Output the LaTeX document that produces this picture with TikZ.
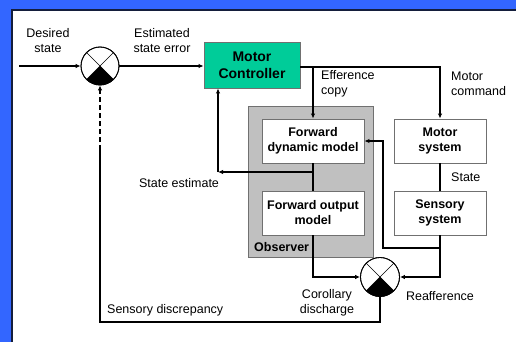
\documentclass[tikz,border=0pt]{standalone}
\usepackage{fontspec}
\setmainfont{Liberation Sans}
\usetikzlibrary{arrows.meta,calc}
\definecolor{bgblue}{RGB}{51,102,255}
\definecolor{ctrlgreen}{RGB}{0,204,153}
\definecolor{obsgray}{RGB}{192,192,192}
\definecolor{edgegray}{RGB}{112,112,112}
\definecolor{paneledge}{RGB}{20,30,60}
\begin{document}
\begin{tikzpicture}[x=1pt,y=1pt,
  every node/.style={font=\fontsize{12.5}{15}\selectfont},
  lbl/.style={inner sep=0pt,align=center},
  lbll/.style={inner sep=0pt,align=left,anchor=west},
  block/.style={draw=edgegray,line width=0.9pt,fill=white,align=center,
    font=\fontsize{12.5}{15}\selectfont\bfseries,inner sep=0pt},
  wire/.style={line width=1.5pt,line join=miter},
  thinwire/.style={line width=1.2pt},
  arr/.style={-{Latex[length=5pt,width=4.5pt]}},
  summer/.style={circle,draw=black,line width=0.8pt,fill=white,minimum size=38pt,inner sep=0pt}
]
\useasboundingbox (0,0) rectangle (516,-342);
\clip (0,0) rectangle (516,-342);
% background and white panel
\fill[bgblue] (0,0) rectangle (516,-342);
\filldraw[fill=white,draw=paneledge,line width=1.2pt] (12,-10) rectangle (530,-360);

% observer frame
\node[draw=edgegray,fill=obsgray,line width=1pt,minimum width=125pt,minimum height=150pt,inner sep=0pt]
  (obs) at (310.5,-182) {};
\node[inner sep=0pt,anchor=west,font=\fontsize{12.5}{15}\selectfont\bfseries] (obslbl) at (254,-247) {Observer};

% blocks
\node[block,draw=edgegray,fill=ctrlgreen,minimum width=96pt,minimum height=46pt,
  font=\fontsize{14}{17}\selectfont\bfseries] (mc) at (252,-65) {Motor\\Controller};
\node[block,minimum width=102pt,minimum height=44pt] (fdm) at (313,-141) {Forward\\dynamic model};
\node[block,minimum width=102pt,minimum height=44pt] (fom) at (313,-213) {Forward output\\model};
\node[block,minimum width=92pt,minimum height=44pt] (ms) at (440,-141) {Motor\\system};
\node[block,minimum width=92pt,minimum height=44pt] (ss) at (440,-213) {Sensory\\system};

% comparators
\node[summer] (s1) at (100,-66) {};
\node[summer,minimum size=39pt] (s2) at (380,-277) {};
\foreach \c/\r in {s1/19,s2/19.5}{
  \fill[black] (\c.center) -- ++(225:\r) arc (225:315:\r) -- cycle;
  \draw[line width=0.6pt] (\c.center) -- ++(45:\r);
  \draw[line width=0.6pt] (\c.center) -- ++(135:\r);
  \draw[line width=0.6pt] (\c.center) -- ++(225:\r);
  \draw[line width=0.6pt] (\c.center) -- ++(315:\r);
  \draw[line width=0.8pt] (\c) circle (\r);
}

% connection points
\coordinate (inp) at (19,-66);
\coordinate (cmd) at (300,-67);
\coordinate (eff) at (313,-67);
\coordinate (est) at (313,-172);
\coordinate (estc) at (218,-172);
\coordinate (reaf) at (440,-248);
\coordinate (fb) at (383,-248);
\coordinate (disc) at (380,-322);
\coordinate (dash) at (100,-150);

% signal flow
\draw[thinwire,arr] (inp) -- (s1.west);
\draw[thinwire,arr] (s1.east) -- (mc.west |- s1.east);
\draw[wire,arr] (cmd) -| (ms.north);
\draw[wire,arr] (eff) -- (fdm.north);
\draw[wire] (fdm.south) -- (fom.north);
\draw[thinwire,arr] (est) -- (estc);
\draw[thinwire,arr] (estc) -- (estc |- mc.south);
\draw[wire] (ms.south) -- (ss.north);
\draw[wire,arr] (ss.south) |- (s2.east);
\draw[wire,arr] (reaf) -- (fb) |- (fdm.east);
\draw[wire,arr] (fom.south) |- (s2.west);
\draw[wire] (s2.south) -- (disc) -| (dash);
\draw[wire,arr,dash pattern=on 5pt off 3pt] (dash) -- (s1.south);

% labels
\node[lbl] (l1) at (48,-41) {Desired\\state};
\node[lbl] (l2) at (162,-41) {Estimated\\state error};
\node[lbll] (l3) at (321,-84) {Efference\\copy};
\node[lbll] (l4) at (451,-84) {Motor\\command};
\node[lbl] (l5) at (179,-183) {State estimate};
\node[lbll] (l6) at (451,-177) {State};
\node[lbl] (l7) at (327,-303) {Corollary\\discharge};
\node[lbl] (l8) at (440,-296) {Reafference};
\node[lbll] (l9) at (107,-310) {Sensory discrepancy};
\end{tikzpicture}
\end{document}
